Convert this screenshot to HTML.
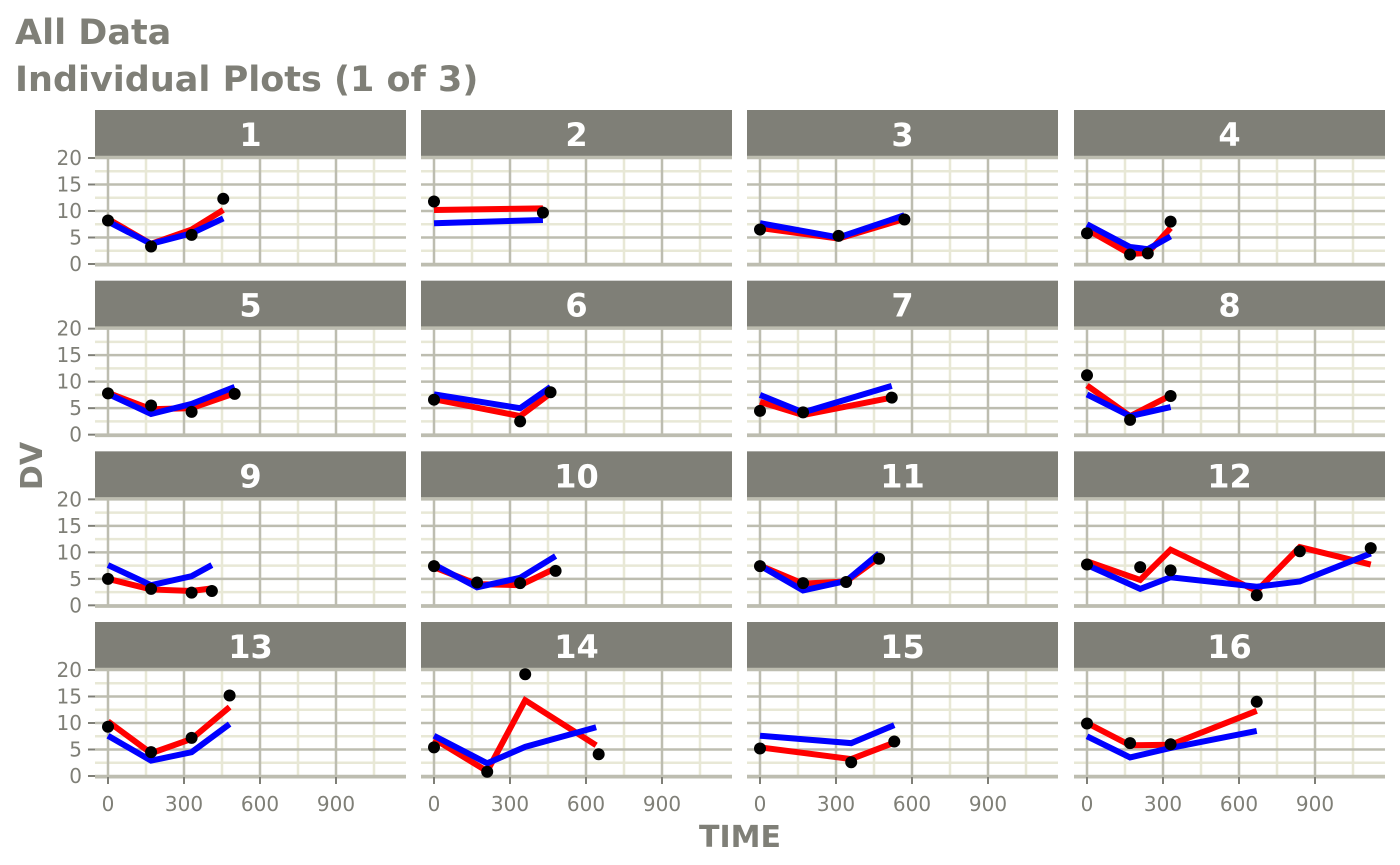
<!DOCTYPE html>
<html><head><meta charset="utf-8"><style>
body{margin:0;background:#fff}
svg{display:block;font-family:"DejaVu Sans","Liberation Sans",sans-serif}
</style></head><body>
<svg id="chart" width="1400" height="865" viewBox="0 0 1400 865">
<text x="15" y="44" font-size="35" font-weight="bold" fill="#7f7f77">All Data</text>
<text x="15" y="91" font-size="35" font-weight="bold" fill="#7f7f77">Individual Plots (1 of 3)</text>
<text x="740" y="847" font-size="30" font-weight="bold" fill="#7f7f77" text-anchor="middle">TIME</text>
<text transform="translate(42,466) rotate(-90)" font-size="30" font-weight="bold" fill="#7f7f77" text-anchor="middle">DV</text>
<g id="panels"></g>
</svg>
<script>
const panelIds=[1,2,3,4,5,6,7,8,9,10,11,12,13,14,15,16];
const obsTime=[[0,170,330,455],[0,430],[0,310,570],[0,170,240,330],[0,170,330,500],[0,340,460],[0,170,520],[0,170,330],[0,170,330,410],[0,170,340,480],[0,170,340,470],[0,210,330,670,840,1120],[0,170,330,480],[0,210,360,650],[0,360,530],[0,170,330,670]];
const obsDV=[[8.2,3.3,5.5,12.3],[11.8,9.7],[6.5,5.3,8.4],[5.8,1.8,2,8],[7.8,5.5,4.3,7.7],[6.6,2.5,8],[4.5,4.2,7],[11.2,2.8,7.3],[5,3.1,2.4,2.7],[7.4,4.3,4.2,6.5],[7.4,4.2,4.4,8.8],[7.7,7.2,6.6,1.9,10.2,10.8],[9.3,4.5,7.2,15.2],[5.4,0.8,19.2,4.1],[5.2,2.6,6.5],[9.9,6.2,6,14]];
const predTime=[[0,170,330,455],[0,430],[0,310,570],[0,170,240,330],[0,170,330,500],[0,340,460],[0,170,520],[0,170,330],[0,170,330,410],[0,170,340,480],[0,170,340,470],[0,210,330,670,840,1120],[0,170,330,480],[0,210,360,640],[0,360,530],[0,170,330,670]];
const ipred=[[8.5,3.8,6.5,10.2],[10.2,10.5],[6.8,4.8,8.5],[6.5,1.9,2.1,6.8],[7.9,4.8,5,7.8],[6.7,3.5,7.8],[6.2,3.7,7],[9.3,3.5,7.4],[5,3,2.7,3.2],[7.2,4,3.8,7],[7.5,4.1,4.5,9],[8.3,4.8,10.5,2.7,11,7.7],[10.3,4.3,7,13],[7,0.9,14.3,5.8],[5.4,3.2,6.3],[10,5.8,5.9,12.3]];
const pred=[[8,3.8,5.8,8.6],[7.7,8.3],[7.7,5,9.2],[7.5,3.2,2.8,5.2],[7.7,3.9,5.8,9],[7.6,5,9],[7.5,4.2,9.2],[7.6,3.5,5.2],[7.6,3.8,5.5,7.6],[7.7,3.4,5.2,9.3],[7.5,2.8,4.6,9.8],[7.6,3.1,5.3,3.5,4.5,9.8],[7.6,2.9,4.5,9.8],[7.6,2.4,5.5,9.2],[7.6,6.2,9.6],[7.5,3.5,5.3,8.5]];
const xTicks=[0,300,600,900];
const xMinor=[150,450,750,1050];
const yTicks=[0,5,10,15,20];
const yMinor=[2.5,7.5,12.5,17.5];

const NS="http://www.w3.org/2000/svg";
const root=document.getElementById('panels');
function mk(tag,attrs,parent){const e=document.createElementNS(NS,tag);for(const k in attrs)e.setAttribute(k,attrs[k]);parent.appendChild(e);return e;}
const colX=[95,421,747,1074],PW=311,rowH=170.67,STRIP=110,PT=157,PB=265;
panelIds.forEach((id,i)=>{
  const c=i%4,r=Math.floor(i/4),x0=colX[c],dy=r*rowH;
  const sx=t=>x0+13+t*76/300;
  const sy=v=>264+dy-v*5.3;
  const g=mk('g',{},root);
  
  
  const strip=mk('rect',{x:x0,y:STRIP+dy,width:PW,height:47,fill:'#7f7f77'},g);
  
  
  const st=mk('text',{x:x0+PW/2,y:STRIP+dy+36,'font-size':32,'font-weight':'bold',fill:'#fff','text-anchor':'middle'},g);
  st.textContent=id;
  
  
  const top=PT+dy,bot=PB+dy;
  yMinor.forEach(v=>mk('line',{x1:x0,x2:x0+PW,y1:sy(v),y2:sy(v),stroke:'#e8e8d6','stroke-width':2.5},g));
  xMinor.forEach(t=>mk('line',{x1:sx(t),x2:sx(t),y1:top,y2:bot,stroke:'#e8e8d6','stroke-width':2.5},g));
  yTicks.forEach(v=>mk('line',{x1:x0,x2:x0+PW,y1:sy(v),y2:sy(v),stroke:'#bdbdb0','stroke-width':2.5},g));
  xTicks.forEach(t=>mk('line',{x1:sx(t),x2:sx(t),y1:top,y2:bot,stroke:'#bdbdb0','stroke-width':2.5},g));
  mk('line',{x1:x0,x2:x0+PW,y1:top,y2:top,stroke:'#bdbdb0','stroke-width':2.5},g);
  mk('line',{x1:x0,x2:x0+PW,y1:bot,y2:bot,stroke:'#bdbdb0','stroke-width':3},g);
  if(c===0){yTicks.forEach(v=>{mk('line',{x1:x0-7,x2:x0,y1:sy(v),y2:sy(v),stroke:'#7f7f77','stroke-width':2},g);
    const t=mk('text',{x:x0-13,y:sy(v)+7,'font-size':20,fill:'#7f7f77','text-anchor':'end'},g);t.textContent=v;
    
    });}
  if(r===3){xTicks.forEach(v=>{mk('line',{x1:sx(v),x2:sx(v),y1:bot,y2:bot+7,stroke:'#7f7f77','stroke-width':2},g);
    const t=mk('text',{x:sx(v),y:bot+34,'font-size':20,fill:'#7f7f77','text-anchor':'middle'},g);t.textContent=v;
    
    });}
  const pts=arr=>predTime[i].map((t,k)=>sx(t)+','+sy(arr[k])).join(' ');
  const rl=mk('polyline',{points:pts(ipred[i]),fill:'none',stroke:'#ff0000','stroke-width':6,'stroke-linejoin':'miter'},g);
  
  
  const bl=mk('polyline',{points:pts(pred[i]),fill:'none',stroke:'#0000ff','stroke-width':6,'stroke-linejoin':'miter'},g);
  
  
  obsTime[i].forEach((t,k)=>{const p=mk('circle',{cx:sx(t),cy:sy(obsDV[i][k]),r:6,fill:'#000'},g);
    
    });
});
</script>
</body></html>
